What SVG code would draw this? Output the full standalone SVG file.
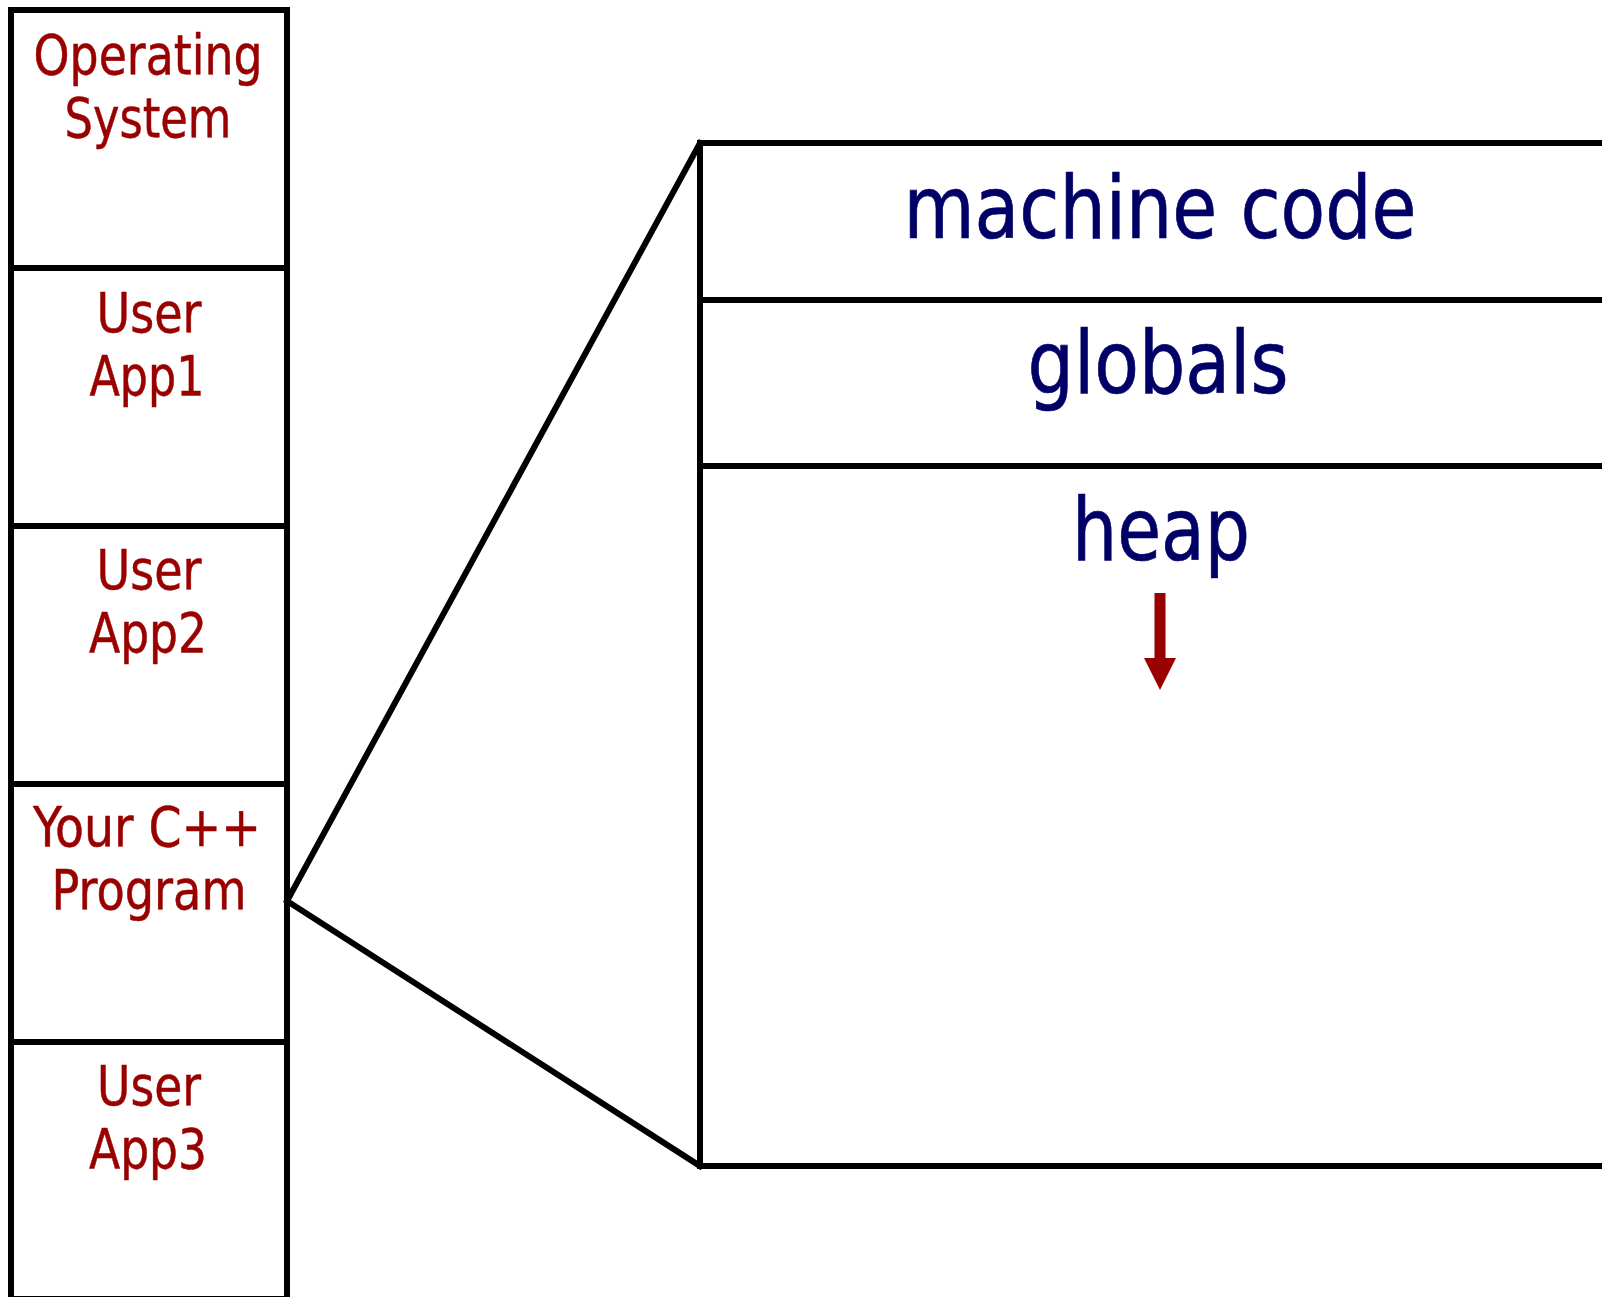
<svg xmlns="http://www.w3.org/2000/svg" width="1602" height="1297" viewBox="0 0 1602 1297">
<style>
.ln{stroke:#000;stroke-width:6;fill:none;stroke-linecap:square}
.lt{font-family:"DejaVu Sans Condensed","DejaVu Sans",sans-serif;font-size:56px;fill:#990000;stroke:#990000;stroke-width:0.5;text-anchor:middle}
.rt{font-family:"DejaVu Sans Condensed","DejaVu Sans",sans-serif;font-size:88px;fill:#000066;stroke:#000066;stroke-width:0.7;text-anchor:middle}
</style>
<rect width="1602" height="1297" fill="#fff"/>
<g id="memory-column">
<rect class="ln" x="11" y="10" width="276" height="1289"/>
</g>
<g id="os">
<line class="ln" x1="11" y1="268" x2="287" y2="268"/>
<text class="lt" x="148" y="74" textLength="229" lengthAdjust="spacingAndGlyphs">Operating</text>
<text class="lt" x="148" y="137" textLength="167" lengthAdjust="spacingAndGlyphs">System</text>
</g>
<g id="app1">
<line class="ln" x1="11" y1="526" x2="287" y2="526"/>
<text class="lt" x="149" y="332" textLength="105" lengthAdjust="spacingAndGlyphs">User</text>
<text class="lt" x="147" y="395" textLength="115" lengthAdjust="spacingAndGlyphs">App1</text>
</g>
<g id="app2">
<line class="ln" x1="11" y1="784" x2="287" y2="784"/>
<text class="lt" x="149" y="589" textLength="105" lengthAdjust="spacingAndGlyphs">User</text>
<text class="lt" x="148" y="652" textLength="118" lengthAdjust="spacingAndGlyphs">App2</text>
</g>
<g id="cpp-program">
<line class="ln" x1="11" y1="1042" x2="287" y2="1042"/>
<text class="lt" x="147" y="846" textLength="228" lengthAdjust="spacingAndGlyphs">Your C++</text>
<text class="lt" x="149" y="909" textLength="195" lengthAdjust="spacingAndGlyphs">Program</text>
</g>
<g id="app3">
<text class="lt" x="149" y="1105" textLength="104" lengthAdjust="spacingAndGlyphs">User</text>
<text class="lt" x="148" y="1168" textLength="118" lengthAdjust="spacingAndGlyphs">App3</text>
</g>
<g id="connectors">
<polyline class="ln" style="stroke-linejoin:miter" points="700,143 287,901 700,1166"/>
</g>
<g id="program-memory">
<polyline class="ln" points="1605,143 700,143 700,1166 1605,1166"/>
</g>
<g id="machine-code">
<line class="ln" x1="700" y1="300" x2="1605" y2="300"/>
<text class="rt" x="1160" y="238" textLength="513" lengthAdjust="spacingAndGlyphs">machine code</text>
</g>
<g id="globals">
<line class="ln" x1="700" y1="466" x2="1605" y2="466"/>
<text class="rt" x="1158" y="393" textLength="261" lengthAdjust="spacingAndGlyphs">globals</text>
</g>
<g id="heap">
<text class="rt" x="1161" y="560" textLength="178" lengthAdjust="spacingAndGlyphs">heap</text>
<path d="M1154.5 593 H1165.5 V658 H1176 L1160 690 L1144 658 H1154.5 Z" fill="#990000"/>
</g>
</svg>
